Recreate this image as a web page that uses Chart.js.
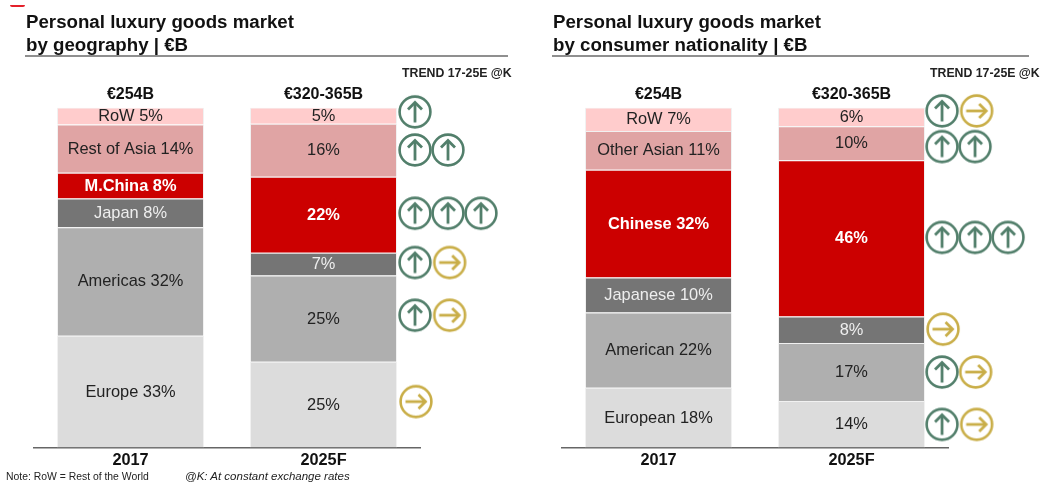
<!DOCTYPE html>
<html><head><meta charset="utf-8">
<style>
html,body{margin:0;padding:0;background:#fff;width:1044px;height:484px;overflow:hidden;font-family:"Liberation Sans",Arial,sans-serif;color:#111}
canvas{position:absolute;top:0}
#c1,#m1{left:0}#c2,#m2{left:522px}
.t{position:absolute;white-space:nowrap}
.title{font-weight:bold;font-size:18.7px;line-height:23px;top:10px}
.rule{position:absolute;height:2px;top:55px;background:#8f8f8f}
.trend{font-size:12.3px;font-weight:bold;top:66px;color:#222}
.note{font-size:10.4px;top:471px;color:#222}
</style>
</head><body>
<canvas id="c1" width="522" height="484"></canvas>
<canvas id="c2" width="522" height="484"></canvas>
<canvas id="m1" width="522" height="484"></canvas>
<canvas id="m2" width="522" height="484"></canvas>
<div class="t" style="left:10px;top:5px;width:15px;height:2px;background:#e4202a;border-radius:0 0 8px 8px"></div>
<div class="t title" style="left:26px">Personal luxury goods market<br>by geography | €B</div>
<div class="rule" style="left:25px;width:483px"></div>
<div class="t trend" style="left:402px">TREND 17-25E @K</div>
<div class="t title" style="left:553px">Personal luxury goods market<br>by consumer nationality | €B</div>
<div class="rule" style="left:552px;width:477px"></div>
<div class="t trend" style="left:930px">TREND 17-25E @K</div>
<div class="t note" style="left:6px">Note: RoW = Rest of the World</div>
<div class="t note" style="left:185px;font-style:italic;font-size:11.5px;top:470px">@K: At constant exchange rates</div>
<script src="https://cdn.jsdelivr.net/npm/chart.js@4/dist/chart.umd.min.js"></script>
<script>
const categories = ['2017', '2025F'];
const totals = ['€254B', '€320-365B'];

const geoNames = ['Europe', 'Americas', 'Japan', 'M.China', 'Rest of Asia', 'RoW'];
const geo2017 = [32.9, 31.9, 8.4, 7.6, 14.2, 5.0];
const geo2025 = [25.2, 25.4, 6.7, 22.3, 15.6, 4.8];
const geoUp = [[0, 98.7], [0, 87.5], [1, 87.5], [0, 68.9], [1, 68.9], [2, 68.9], [0, 54.4], [0, 38.9]];
const geoFlat = [[1.05, 54.4], [1.05, 38.9], [0.03, 13.5]];

const natNames = ['European', 'American', 'Japanese', 'Chinese', 'Other Asian', 'RoW'];
const nat2017 = [17.6, 22.1, 10.3, 31.7, 11.4, 6.9];
const nat2025 = [13.7, 17.0, 7.8, 46.0, 10.0, 5.5];
const natUp = [[0, 99], [0, 88.5], [1, 88.5], [0, 61.8], [1, 61.8], [2, 61.8], [0, 22.2], [0, 6.8]];
const natFlat = [[1.05, 99], [0.03, 34.8], [1.02, 22.2], [1.05, 6.8]];

const segmentColors = ['#dcdcdc', '#afafaf', '#757575', '#cc0000', '#e0a4a4', '#ffcccc'];
const segmentText = ['#222', '#222', '#eee', '#fff', '#222', '#222'];
const segmentWeight = ['normal', 'normal', 'normal', 'bold', 'normal', 'normal'];
const FONT = '"Liberation Sans", Arial, sans-serif';

function icon(color, dir) {
  const c = document.createElement('canvas');
  c.width = c.height = 36;
  const g = c.getContext('2d');
  g.strokeStyle = color; g.lineWidth = 2.6;
  g.beginPath(); g.arc(18, 18, 15.4, 0, Math.PI * 2); g.stroke();
  g.translate(18, 18);
  if (dir === 'flat') g.rotate(Math.PI / 2);
  g.lineWidth = 2.8;
  g.beginPath(); g.moveTo(0, 10.5); g.lineTo(0, -9); g.stroke();
  g.beginPath(); g.moveTo(-7, -2.5); g.lineTo(0, -9.5); g.lineTo(7, -2.5); g.stroke();
  return c;
}
const upIcon = icon('#527f6b', 'up');
const flatIcon = icon('#c9ae48', 'flat');

const labelPlugin = {
  id: 'segmentLabels',
  afterDatasetsDraw(chart) {
    const g = chart.ctx;
    g.save();
    g.textAlign = 'center';
    g.textBaseline = 'middle';
    chart.data.datasets.forEach((ds, i) => {
      chart.getDatasetMeta(i).data.forEach((bar, j) => {
        const pct = Math.round(ds.data[j]) + '%';
        g.font = segmentWeight[i] + ' 16.4px ' + FONT;
        g.fillStyle = segmentText[i];
        g.fillText(j === 0 ? ds.label + ' ' + pct : pct, bar.x, (bar.y + bar.base) / 2 + 0.5);
      });
    });
    g.font = 'bold 16px ' + FONT;
    g.fillStyle = '#111';
    chart.getDatasetMeta(0).data.forEach((bar, j) => g.fillText(totals[j], bar.x, chart.chartArea.top - 12.5));
    g.restore();
  }
};

function padding(id) {
  return { left: id === '1' ? 34 : 40, right: id === '1' ? 102 : 96, top: 107.5 };
}

function draw(id, names, a, b, up, flat, colMin, colMax) {
  const bars = names.map((n, i) => ({
    label: n,
    data: [a[i], b[i]],
    backgroundColor: segmentColors[i],
    borderColor: '#f1f1f1',
    borderWidth: 1,
    barPercentage: 1,
    categoryPercentage: 147 / 193
  }));
  new Chart(document.getElementById('c' + id), {
    type: 'bar',
    data: { labels: categories, datasets: bars },
    plugins: [labelPlugin],
    options: {
      responsive: false,
      animation: false,
      layout: { padding: { ...padding(id), bottom: 0 } },
      plugins: { legend: { display: false }, tooltip: { enabled: false } },
      scales: {
        x: {
          stacked: true,
          grid: { display: false, tickLength: 0 },
          border: { display: true, color: '#666', width: 1.5 },
          afterFit(s) { s.height = 36.5; },
          ticks: { color: '#111', padding: 3, maxRotation: 0, font: { family: FONT, size: 16.3, weight: 'bold' } }
        },
        y: { stacked: true, display: false, min: 0, max: 100 }
      }
    }
  });
  const marks = (arr, img, label) => ({
    label, data: arr.map(p => ({ x: p[0], y: p[1] })),
    pointStyle: img, pointRadius: 18, showLine: false, clip: false
  });
  new Chart(document.getElementById('m' + id), {
    type: 'scatter',
    data: { datasets: [marks(up, upIcon, 'Up'), marks(flat, flatIcon, 'Flat')] },
    options: {
      responsive: false,
      animation: false,
      layout: { autoPadding: false, padding: { ...padding(id), right: 0, bottom: 36.5 } },
      plugins: { legend: { display: false }, tooltip: { enabled: false } },
      scales: {
        x: { type: 'linear', display: false, bounds: 'data', min: colMin, max: colMax },
        y: { type: 'linear', display: false, bounds: 'data', min: 0, max: 100 }
      }
    }
  });
}
draw('1', geoNames, geo2017, geo2025, geoUp, geoFlat, -11.545, 3.243);
draw('2', natNames, nat2017, nat2025, natUp, natFlat, -11.515, 3.09);
</script>
</body></html>
